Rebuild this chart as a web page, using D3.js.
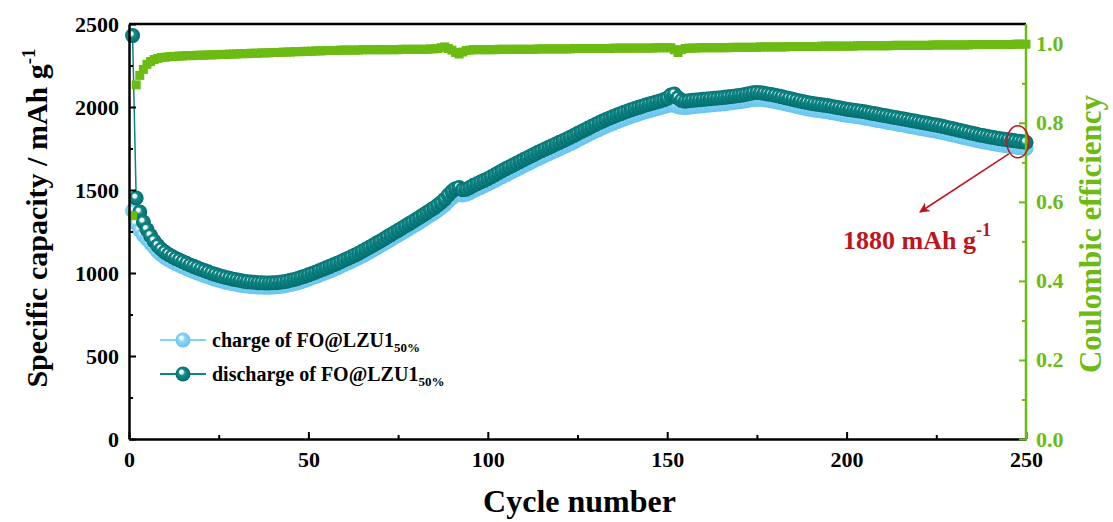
<!DOCTYPE html>
<html><head><meta charset="utf-8">
<script src="https://cdn.jsdelivr.net/npm/d3@7/dist/d3.min.js"></script>
<style>
body{margin:0;background:#fff;}
svg{display:block;}
text{font-family:"Liberation Serif","Times New Roman",serif;font-weight:bold;}
</style></head>
<body>
<svg id="chart" width="1113" height="522"></svg>
<script>
// ---- data ----
const cycles = d3.range(1, 251);
const discharge = [
2430,1452,1367,1307,1262,1225,1193,1165,1143,1126,
1112,1100,1088,1078,1068,1058,1048,1040,1031,1023,
1015,1007,999,992,985,979,973,968,963,959,
955,951,948,946,944,942,941,940,940,941,
942,944,947,951,956,961,967,974,981,989,
997,1005,1014,1022,1031,1040,1049,1058,1068,1078,
1088,1098,1108,1119,1131,1143,1155,1167,1180,1192,
1205,1218,1231,1244,1257,1270,1283,1296,1309,1322,
1336,1350,1364,1378,1392,1408,1425,1445,1470,1492,
1508,1515,1502,1505,1515,1528,1538,1548,1558,1568,
1580,1592,1604,1616,1628,1639,1650,1661,1672,1683,
1694,1705,1716,1727,1737,1747,1757,1767,1777,1787,
1797,1807,1818,1829,1840,1851,1862,1873,1884,1895,
1905,1915,1925,1934,1943,1952,1960,1968,1976,1984,
1991,1998,2005,2012,2018,2024,2030,2036,2043,2052,
2072,2078,2055,2040,2035,2038,2040,2042,2044,2046,
2048,2050,2052,2054,2056,2058,2061,2064,2067,2070,
2073,2077,2082,2086,2088,2086,2083,2079,2075,2071,
2066,2061,2056,2051,2046,2041,2036,2031,2027,2023,
2019,2016,2013,2010,2007,2003,1999,1995,1991,1987,
1984,1981,1978,1975,1971,1967,1963,1959,1955,1951,
1947,1943,1939,1935,1931,1927,1923,1919,1915,1911,
1907,1903,1899,1895,1891,1887,1882,1877,1872,1867,
1862,1857,1852,1847,1842,1837,1832,1828,1824,1820,
1816,1812,1808,1805,1802,1799,1796,1793,1790,1787];
const charge = [
1375,1300,1258,1228,1205,1180,1155,1130,1110,1094,
1080,1068,1057,1047,1037,1027,1018,1010,1001,993,
985,977,970,963,956,950,945,940,935,931,
927,924,921,919,917,916,915,914,914,915,
917,919,922,926,930,935,941,948,955,963,
971,979,987,996,1004,1013,1022,1031,1041,1051,
1061,1071,1081,1092,1103,1115,1127,1139,1151,1164,
1176,1189,1202,1215,1228,1241,1254,1267,1280,1293,
1306,1320,1334,1348,1362,1377,1393,1410,1432,1452,
1468,1478,1470,1474,1484,1496,1506,1516,1526,1536,
1547,1558,1569,1580,1591,1602,1613,1624,1635,1646,
1657,1668,1679,1689,1699,1709,1719,1729,1739,1749,
1759,1769,1779,1790,1801,1812,1823,1834,1845,1855,
1865,1875,1885,1894,1903,1912,1920,1928,1936,1944,
1951,1958,1965,1972,1978,1984,1990,1996,2002,2008,
2018,2010,2002,1998,1997,1999,2001,2004,2006,2008,
2010,2012,2014,2016,2018,2020,2023,2026,2029,2032,
2035,2038,2042,2045,2047,2046,2044,2041,2037,2033,
2029,2024,2019,2014,2009,2004,1999,1994,1990,1986,
1982,1979,1976,1973,1970,1966,1962,1958,1954,1950,
1947,1944,1941,1938,1934,1930,1926,1922,1918,1914,
1910,1906,1902,1898,1894,1890,1886,1882,1878,1874,
1870,1866,1862,1858,1854,1850,1845,1840,1835,1830,
1825,1820,1815,1810,1805,1800,1795,1791,1787,1783,
1779,1775,1771,1768,1765,1762,1759,1756,1753,1750];
const efficiency = [
0.565,0.896,0.920,0.935,0.948,0.955,0.960,0.963,0.965,0.966,
0.967,0.968,0.968,0.969,0.969,0.970,0.970,0.970,0.971,0.971,
0.971,0.972,0.972,0.972,0.973,0.973,0.973,0.974,0.974,0.974,
0.975,0.975,0.975,0.976,0.976,0.976,0.977,0.977,0.977,0.978,
0.978,0.978,0.979,0.979,0.979,0.980,0.980,0.980,0.981,0.981,
0.981,0.982,0.982,0.982,0.983,0.983,0.983,0.983,0.984,0.984,
0.984,0.984,0.984,0.984,0.985,0.985,0.985,0.985,0.985,0.985,
0.985,0.985,0.985,0.985,0.985,0.986,0.986,0.986,0.986,0.986,
0.986,0.986,0.986,0.987,0.987,0.988,0.990,0.992,0.988,0.984,
0.978,0.974,0.979,0.983,0.984,0.985,0.985,0.985,0.985,0.985,
0.985,0.985,0.986,0.986,0.986,0.986,0.986,0.986,0.986,0.986,
0.986,0.986,0.986,0.987,0.987,0.987,0.987,0.987,0.987,0.987,
0.987,0.987,0.987,0.988,0.988,0.988,0.988,0.988,0.988,0.988,
0.988,0.988,0.988,0.988,0.989,0.989,0.989,0.989,0.989,0.989,
0.989,0.989,0.989,0.989,0.989,0.989,0.990,0.990,0.990,0.990,
0.990,0.985,0.978,0.985,0.988,0.989,0.989,0.989,0.990,0.990,
0.990,0.990,0.990,0.990,0.990,0.990,0.990,0.991,0.991,0.991,
0.991,0.991,0.991,0.991,0.991,0.992,0.992,0.992,0.992,0.992,
0.992,0.992,0.992,0.993,0.993,0.993,0.993,0.993,0.993,0.993,
0.993,0.993,0.994,0.994,0.994,0.994,0.994,0.994,0.994,0.994,
0.994,0.994,0.995,0.995,0.995,0.995,0.995,0.995,0.995,0.995,
0.995,0.995,0.996,0.996,0.996,0.996,0.996,0.996,0.996,0.996,
0.996,0.996,0.996,0.997,0.997,0.997,0.997,0.997,0.997,0.997,
0.997,0.997,0.997,0.997,0.998,0.998,0.998,0.998,0.998,0.998,
0.998,0.998,0.998,0.998,0.998,0.998,0.999,0.999,0.999,0.999];
const xTicks = [0,50,100,150,200,250];
const xMinor = [25,75,125,175,225];
const yTicks = [0,500,1000,1500,2000,2500];
const yMinor = [250,750,1250,1750,2250];
const y2Ticks = [0,0.2,0.4,0.6,0.8,1.0];
const y2Minor = [0.1,0.3,0.5,0.7,0.9];
const annotCycle = 248, annotValue = 1790, annotLabel = "1880 mAh g";

// ---- layout ----
const L = 129, R = 1026, T = 24, B = 439;
const green = "#6cbb13", teal = "#0a8686", lblue = "#84d3f7", red = "#c0141c";

const svg = d3.select("#chart");
const x = d3.scaleLinear().domain([0,250]).range([L,R]);
const y = d3.scaleLinear().domain([0,2500]).range([B,T]);
const y2 = d3.scaleLinear().domain([0,1.05]).range([B,T]);

const defs = svg.append("defs");
function ball(id, mid, edge){
  const g = defs.append("radialGradient").attr("id",id)
    .attr("cx","50%").attr("cy","50%").attr("r","55%").attr("fx","36%").attr("fy","32%");
  g.append("stop").attr("offset","0%").attr("stop-color","#ffffff");
  g.append("stop").attr("offset","22%").attr("stop-color","#e8f6f6");
  g.append("stop").attr("offset","40%").attr("stop-color",mid);
  g.append("stop").attr("offset","100%").attr("stop-color",edge);
}
ball("gDis", "#128c8c", "#006767");
ball("gChg", "#8ad6f8", "#62c2ec");

// plot frame: top border
svg.append("line").attr("x1",L).attr("x2",R).attr("y1",T).attr("y2",T)
  .attr("stroke","#000").attr("stroke-width",2.5);

// series lines
const lineGen = ys => d3.line().x((d,i)=>x(cycles[i])).y(d=>ys(d));
svg.append("path").datum(charge).attr("d", lineGen(y)).attr("fill","none")
  .attr("stroke",lblue).attr("stroke-width",1.5);
svg.append("g").selectAll("circle").data(charge).join("circle")
  .attr("cx",(d,i)=>x(cycles[i])).attr("cy",d=>y(d)).attr("r",7.5)
  .attr("fill","url(#gChg)");
svg.append("path").datum(discharge).attr("d", lineGen(y)).attr("fill","none")
  .attr("stroke",teal).attr("stroke-width",1.5);
svg.append("g").selectAll("circle").data(discharge).join("circle")
  .attr("cx",(d,i)=>x(cycles[i])).attr("cy",d=>y(d)).attr("r",7.5)
  .attr("fill","url(#gDis)");

// efficiency squares
svg.append("g").selectAll("rect").data(efficiency).join("rect")
  .attr("x",(d,i)=>x(cycles[i])-4.5).attr("y",d=>y2(d)-4.5)
  .attr("width",9).attr("height",9).attr("fill",green);

// axes
function styleAxis(g, color, fs){
  g.select(".domain").attr("stroke",color).attr("stroke-width",2.5);
  g.selectAll(".tick line").attr("stroke",color).attr("stroke-width",2);
  g.selectAll(".tick text").attr("fill",color).style("font-size",fs+"px")
    .style("font-family",'"Liberation Serif",serif').style("font-weight","bold");
}
const gx = svg.append("g").attr("transform",`translate(0,${B})`)
  .call(d3.axisBottom(x).tickValues(xTicks).tickSizeInner(-7).tickSizeOuter(0).tickPadding(12).tickFormat(d3.format("d")));
styleAxis(gx,"#000",22);
const gxm = svg.append("g").attr("transform",`translate(0,${B})`)
  .call(d3.axisBottom(x).tickValues(xMinor).tickSizeInner(-4).tickSizeOuter(0).tickFormat(""));
styleAxis(gxm,"#000",1); gxm.select(".domain").remove();

const gy = svg.append("g").attr("transform",`translate(${L},0)`)
  .call(d3.axisLeft(y).tickValues(yTicks).tickSizeInner(-7).tickSizeOuter(0).tickPadding(10).tickFormat(d3.format("d")));
styleAxis(gy,"#000",22);
const gym = svg.append("g").attr("transform",`translate(${L},0)`)
  .call(d3.axisLeft(y).tickValues(yMinor).tickSizeInner(-4).tickSizeOuter(0).tickFormat(""));
styleAxis(gym,"#000",1); gym.select(".domain").remove();

const gy2 = svg.append("g").attr("transform",`translate(${R},0)`)
  .call(d3.axisRight(y2).tickValues(y2Ticks).tickSizeInner(-7).tickSizeOuter(0).tickPadding(10).tickFormat(d3.format(".1f")));
styleAxis(gy2,green,22);
gy2.select(".domain").attr("d",`M0,${B}V${T}`);
const gy2m = svg.append("g").attr("transform",`translate(${R},0)`)
  .call(d3.axisRight(y2).tickValues(y2Minor).tickSizeInner(-4).tickSizeOuter(0).tickFormat(""));
styleAxis(gy2m,green,1); gy2m.select(".domain").remove();

// axis titles
const t1 = svg.append("text").attr("transform","translate(47,218) rotate(-90)")
  .attr("text-anchor","middle").style("font-size","30px").attr("fill","#000");
t1.append("tspan").text("Specific capacity / mAh g");
t1.append("tspan").attr("dy",-12).style("font-size","19px").text("-1");

svg.append("text").attr("x",(L+R)/2+2).attr("y",512).attr("text-anchor","middle")
  .style("font-size","32px").attr("fill","#000").text("Cycle number");

svg.append("text").attr("transform","translate(1101,234) rotate(-90)")
  .attr("text-anchor","middle").style("font-size","31px").attr("fill",green)
  .text("Coulombic efficiency");

// legend
const legend = [
  {label:"charge of FO@LZU1", sub:"50%", fill:"url(#gChg)", color:lblue, yy:340},
  {label:"discharge of FO@LZU1", sub:"50%", fill:"url(#gDis)", color:teal, yy:374}
];
legend.forEach(l=>{
  svg.append("line").attr("x1",160).attr("x2",206).attr("y1",l.yy).attr("y2",l.yy)
    .attr("stroke",l.color).attr("stroke-width",2);
  svg.append("circle").attr("cx",183).attr("cy",l.yy).attr("r",7.5).attr("fill",l.fill);
  const t = svg.append("text").attr("x",212).attr("y",l.yy+7).style("font-size","20px").attr("fill","#000");
  t.append("tspan").text(l.label);
  t.append("tspan").attr("dy",5).style("font-size","13px").text(l.sub);
});

// annotation
const ax = x(annotCycle), ay = y(annotValue);
svg.append("ellipse").attr("cx",ax-1).attr("cy",ay).attr("rx",11).attr("ry",16)
  .attr("fill","none").attr("stroke",red).attr("stroke-width",1.5);
defs.append("marker").attr("id","arr").attr("viewBox","0 0 10 10").attr("refX",9).attr("refY",5)
  .attr("markerWidth",7).attr("markerHeight",7).attr("orient","auto")
  .append("path").attr("d","M0,0L10,5L0,10L3,5Z").attr("fill",red);
svg.append("line").attr("x1",ax-10).attr("y1",ay+12).attr("x2",920).attr("y2",212)
  .attr("stroke",red).attr("stroke-width",1.5).attr("marker-end","url(#arr)");
const ta = svg.append("text").attr("x",843).attr("y",249).style("font-size","26px").attr("fill",red);
ta.append("tspan").text(annotLabel);
ta.append("tspan").attr("dy",-13).style("font-size","18px").text("-1");
</script>
</body></html>
